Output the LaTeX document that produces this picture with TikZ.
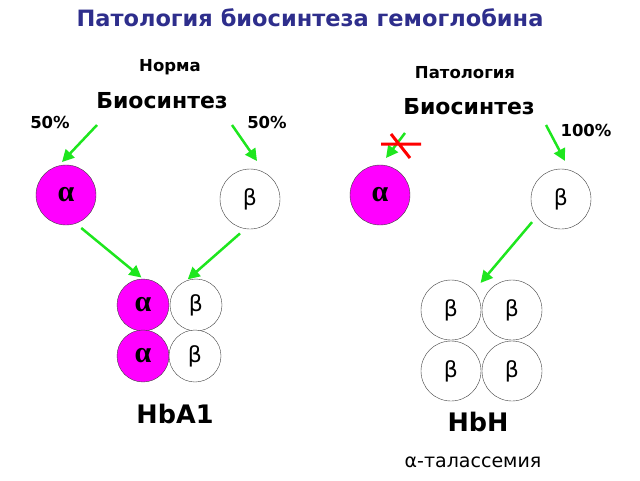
\documentclass[tikz,border=0pt]{standalone}
\usepackage{fontspec}
\setmainfont{DejaVu Sans}
\newfontfamily\serifgr{Liberation Serif}
\usetikzlibrary{arrows.meta}
\definecolor{titleblue}{RGB}{46,46,140}
\definecolor{chainmag}{RGB}{255,0,255}
\definecolor{arrgreen}{RGB}{30,230,30}

\begin{document}
\begin{tikzpicture}[x=1pt, y=-1pt,
	achain/.style={circle, draw=black!75, fill=chainmag, minimum size=60pt, inner sep=0pt, font=\serifgr\bfseries\fontsize{30}{30}\selectfont},
	bchain/.style={circle, draw=black!75, fill=white, minimum size=60pt, inner sep=0pt, font=\fontsize{22}{22}\selectfont},
	small/.style={minimum size=52pt},
	garrow/.style={-{Triangle[length=12pt,width=12pt]}, arrgreen, line width=2.5pt},
	lbl/.style={font=\bfseries\fontsize{#1}{#1}\selectfont}]
	\useasboundingbox (0,0) rectangle (640,480);
	\node[lbl=22.5, text=titleblue] (title) at (310,18) {Патология биосинтеза гемоглобина};
	% norm
	\node[lbl=16.5] (norm) at (170,67) {Норма};
	\node[lbl=22] (bioL) at (162,101) {Биосинтез};
	\node[lbl=16.5] (pL) at (50,122) {50\%};
	\node[lbl=16.5] (pR) at (267,122) {50\%};
	\node[achain] (a1) at (66,195) {α};
	\node[bchain] (b1) at (250,199) {β};
	\node[achain, small] (A1) at (143,305) {α};
	\node[achain, small] (A2) at (143,356) {α};
	\node[bchain, small] (B1) at (196,305) {β};
	\node[bchain, small] (B2) at (195,356) {β};
	\node[lbl=25.5] (hba) at (175,414) {HbA1};
	\coordinate (sL) at (97,125);
	\coordinate (sR) at (232,125);
	\draw[garrow] (sL) -- (62,162);
	\draw[garrow] (sR) -- (257,161);
	\draw[garrow, shorten <=7pt, shorten >=2pt] (a1.-71) -- (A1.north);
	\draw[garrow, shorten <=7pt, shorten >=2pt] (b1.-99) -- (B1.112);
	% pathology
	\node[lbl=16.5] (path) at (465,73) {Патология};
	\node[lbl=22] (bioR) at (469,107) {Биосинтез};
	\node[lbl=16.5] (pC) at (586,130) {100\%};
	\node[achain] (a2) at (380,195) {α};
	\node[bchain] (b2) at (561,199) {β};
	\node[bchain] (h1) at (451,310) {β};
	\node[bchain] (h2) at (512,310) {β};
	\node[bchain] (h3) at (451,371) {β};
	\node[bchain] (h4) at (512,371) {β};
	\node[lbl=25.5] (hbh) at (478,422) {HbH};
	\node[font=\fontsize{19}{19}\selectfont] (thal) at (473,462) {α-талассемия};
	\coordinate (sX) at (405,133);
	\coordinate (sC) at (546,125);
	\draw[garrow] (sX) -- (386,158);
	\draw[red, line width=3pt] (381,144) -- (421,144) (391,134) -- (410,158);
	\draw[garrow] (sC) -- (565,161);
	\draw[garrow, shorten <=7pt, shorten >=10pt] (b2.-144) -- (h1.40);
\end{tikzpicture}
\end{document}
